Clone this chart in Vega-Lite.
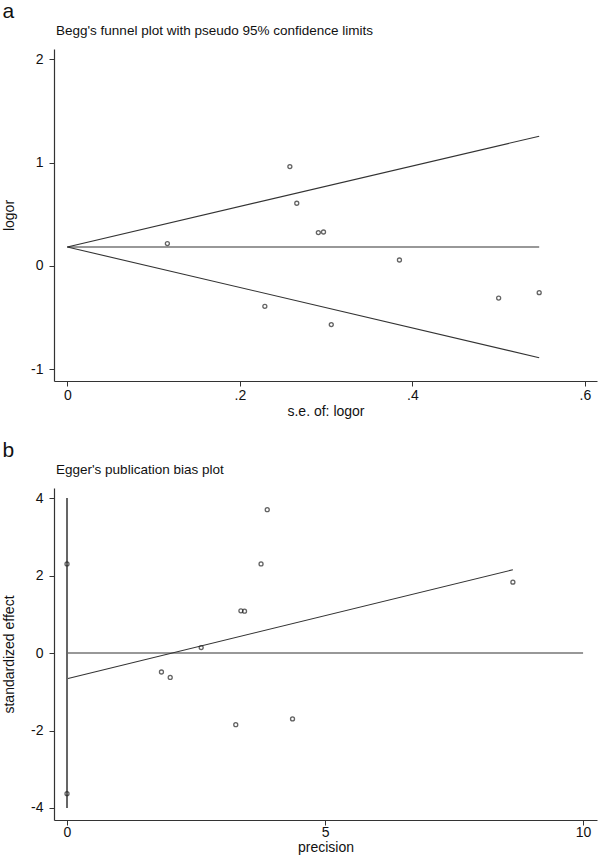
{
  "$schema": "https://vega.github.io/schema/vega-lite/v6.json",
  "autosize": {"type": "pad"},
  "padding": {"left": 2, "top": 0, "right": 2, "bottom": 1},
  "background": "white",
  "spacing": 21,
  "config": {
    "view": {"stroke": null},
    "font": "Liberation Sans",
    "axis": {
      "grid": false,
      "domainColor": "#333333",
      "domainWidth": 1.2,
      "tickColor": "#333333",
      "tickSize": 5,
      "tickWidth": 1,
      "labelColor": "#111111",
      "labelFontSize": 14,
      "labelFont": "Liberation Sans",
      "titleColor": "#111111",
      "titleFontSize": 14,
      "titleFont": "Liberation Sans",
      "titleFontWeight": "normal"
    },
    "title": {"fontWeight": "normal", "color": "#111111", "font": "Liberation Sans"}
  },
  "datasets": {
    "begg": [
      {"se": 0.116, "logor": 0.217},
      {"se": 0.229, "logor": -0.39},
      {"se": 0.258, "logor": 0.962},
      {"se": 0.266, "logor": 0.607},
      {"se": 0.291, "logor": 0.323},
      {"se": 0.297, "logor": 0.329},
      {"se": 0.306, "logor": -0.567},
      {"se": 0.385, "logor": 0.058},
      {"se": 0.5, "logor": -0.31},
      {"se": 0.547, "logor": -0.258}
    ],
    "funnel": [
      {"x": 0, "y": 0.184, "x2": 0.547, "y2": 1.256},
      {"x": 0, "y": 0.184, "x2": 0.547, "y2": 0.184},
      {"x": 0, "y": 0.184, "x2": 0.547, "y2": -0.888}
    ],
    "egger": [
      {"precision": 0, "effect": 2.3},
      {"precision": 0, "effect": -3.63},
      {"precision": 1.83, "effect": -0.49},
      {"precision": 2.0, "effect": -0.63},
      {"precision": 2.6, "effect": 0.14},
      {"precision": 3.27, "effect": -1.85},
      {"precision": 3.37, "effect": 1.09},
      {"precision": 3.44, "effect": 1.08},
      {"precision": 3.76, "effect": 2.3},
      {"precision": 3.88, "effect": 3.7},
      {"precision": 4.37, "effect": -1.7},
      {"precision": 8.64, "effect": 1.83}
    ],
    "eggerlines": [
      {"kind": "fit", "x": 0, "y": -0.664, "x2": 8.64, "y2": 2.15},
      {"kind": "zero", "x": 0, "y": 0, "x2": 10, "y2": 0},
      {"kind": "ci", "x": 0, "y": -4, "x2": 0, "y2": 4}
    ]
  },
  "vconcat": [
    {
      "title": {"text": "a", "anchor": "start", "frame": "bounds", "fontSize": 21, "offset": 2},
      "vconcat": [
        {
          "title": {"text": "Begg's funnel plot with pseudo 95% confidence limits", "anchor": "start", "frame": "group", "fontSize": 13.5, "offset": 12, "dx": 2},
          "width": 543,
          "height": 332,
          "layer": [
            {
              "data": {"name": "funnel"},
              "mark": {"type": "rule", "color": "#333333", "strokeWidth": 1.1},
              "encoding": {
                "x": {"field": "x", "type": "quantitative", "scale": {"domain": [-0.0154, 0.614], "nice": false, "zero": false},
                  "axis": {"title": "s.e. of: logor", "values": [0, 0.2, 0.4, 0.6], "labelExpr": "datum.value == 0 ? '0' : replace(format(datum.value, '.1f'), '0.', '.')", "labelPadding": 2, "titlePadding": 2}},
                "y": {"field": "y", "type": "quantitative", "scale": {"domain": [-1.113, 2.1], "nice": false, "zero": false},
                  "axis": {"title": "logor", "values": [-1, 0, 1, 2], "labelExpr": "'' + datum.value", "labelPadding": 6, "titlePadding": 14}},
                "x2": {"field": "x2"},
                "y2": {"field": "y2"}
              }
            },
            {
              "data": {"name": "begg"},
              "mark": {"type": "point", "shape": "circle", "filled": false, "color": "#222222", "strokeWidth": 1.3, "size": 16},
              "encoding": {
                "x": {"field": "se", "type": "quantitative"},
                "y": {"field": "logor", "type": "quantitative"}
              }
            }
          ]
        }
      ]
    },
    {
      "title": {"text": "b", "anchor": "start", "frame": "bounds", "fontSize": 21, "offset": 2},
      "vconcat": [
        {
          "title": {"text": "Egger's publication bias plot", "anchor": "start", "frame": "group", "fontSize": 13.5, "offset": 12, "dx": 2},
          "width": 543,
          "height": 332,
          "layer": [
            {
              "data": {"name": "eggerlines"},
              "transform": [{"filter": "datum.kind != 'ci'"}],
              "mark": {"type": "rule", "color": "#333333", "strokeWidth": 1.1},
              "encoding": {
                "x": {"field": "x", "type": "quantitative", "scale": {"domain": [-0.252, 10.27], "nice": false, "zero": false},
                  "axis": {"title": "precision", "values": [0, 5, 10], "labelPadding": 0, "titlePadding": 1}},
                "y": {"field": "y", "type": "quantitative", "scale": {"domain": [-4.31, 4.26], "nice": false, "zero": false},
                  "axis": {"title": "standardized effect", "values": [-4, -2, 0, 2, 4], "labelExpr": "'' + datum.value", "labelPadding": 6, "titlePadding": 14}},
                "x2": {"field": "x2"},
                "y2": {"field": "y2"}
              }
            },
            {
              "data": {"name": "eggerlines"},
              "transform": [{"filter": "datum.kind == 'ci'"}],
              "mark": {"type": "rule", "color": "#666666", "strokeWidth": 2},
              "encoding": {
                "x": {"field": "x", "type": "quantitative"},
                "y": {"field": "y", "type": "quantitative"},
                "x2": {"field": "x2"},
                "y2": {"field": "y2"}
              }
            },
            {
              "data": {"name": "egger"},
              "mark": {"type": "point", "shape": "circle", "filled": false, "color": "#222222", "strokeWidth": 1.3, "size": 16},
              "encoding": {
                "x": {"field": "precision", "type": "quantitative"},
                "y": {"field": "effect", "type": "quantitative"}
              }
            }
          ]
        }
      ]
    }
  ]
}
